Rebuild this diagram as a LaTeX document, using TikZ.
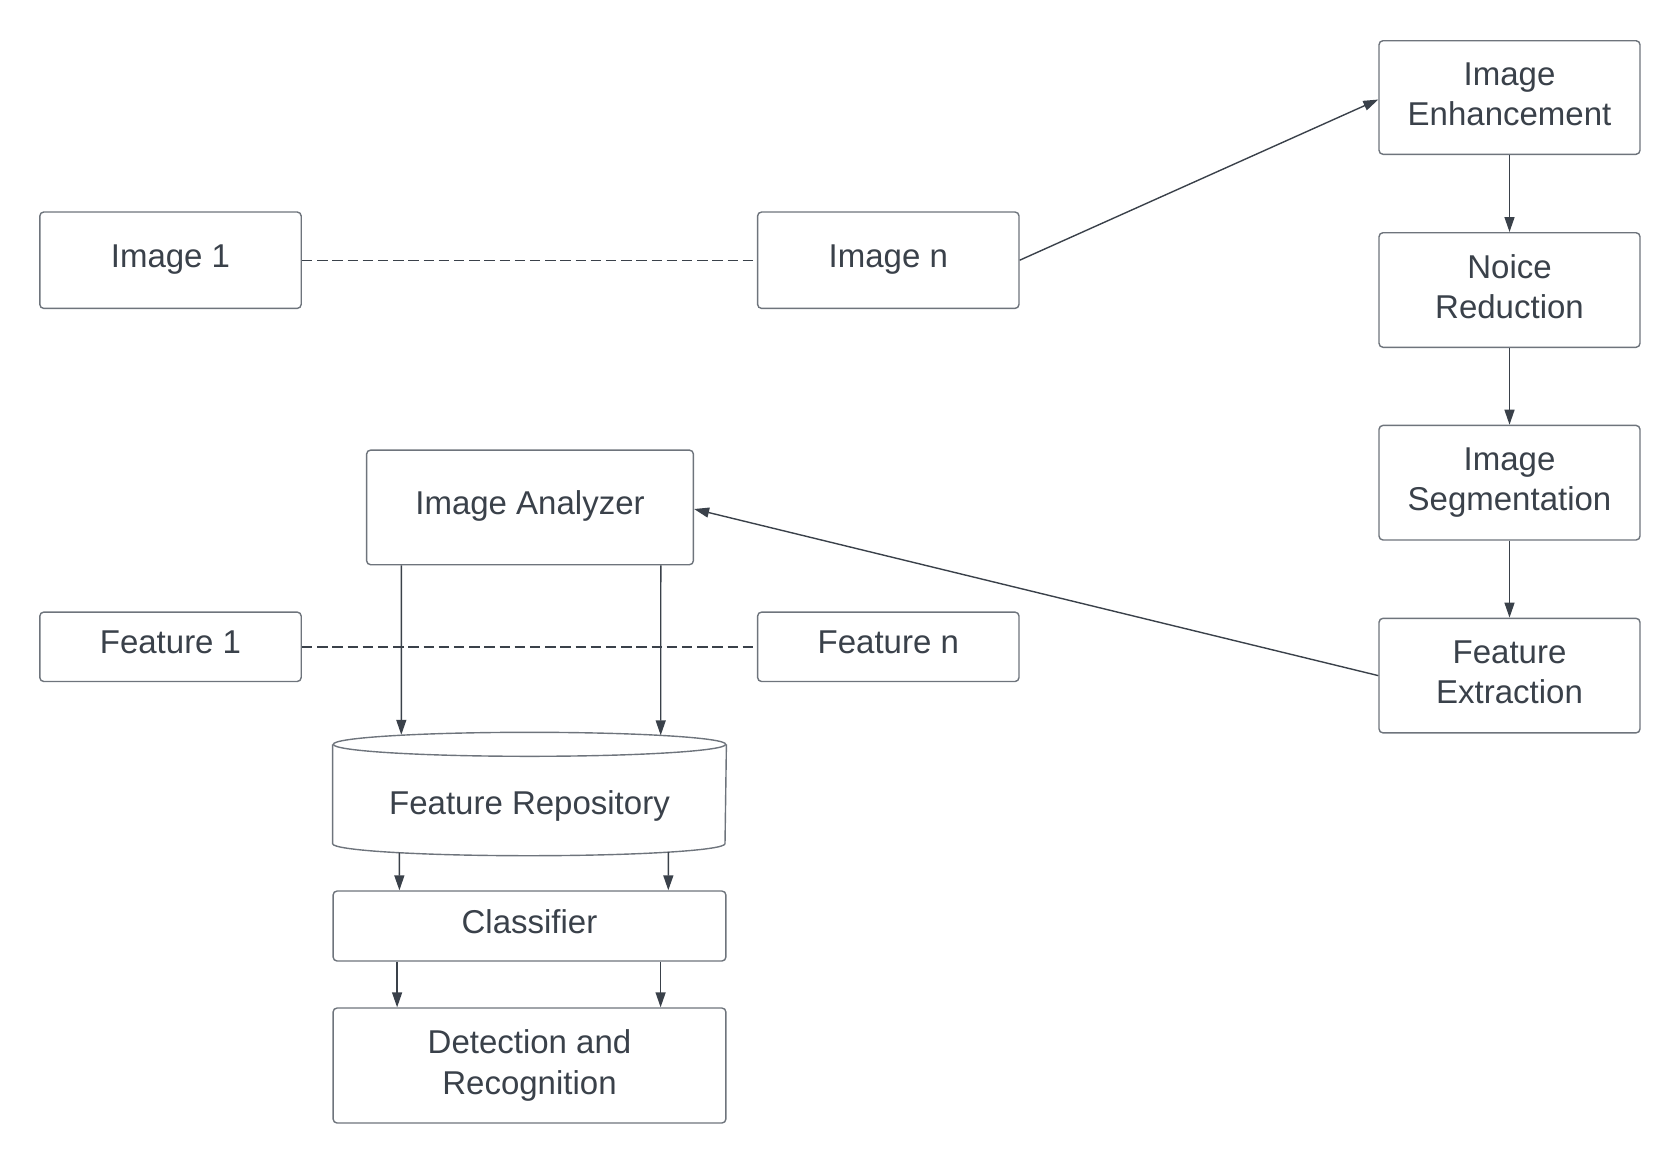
\documentclass[tikz,border=0pt]{standalone}
\usepackage{fontspec}
\setmainfont{Liberation Sans}
\usetikzlibrary{arrows.meta,calc}

\definecolor{inkgrey}{HTML}{3A414A}
\definecolor{edgegrey}{HTML}{6E747C}
\newcommand{\lastdepth}{\rule[-3.5pt]{0pt}{3.5pt}}

\tikzset{every picture/.style={line width=0.7pt}}
\tikzset{
  stagebox/.style={draw=edgegrey, rounded corners=2pt, fill=white, inner sep=0pt,
    text=inkgrey, align=center, font=\fontsize{16.5}{20.3}\selectfont},
  oneline/.style={stagebox, text height=10.5pt, text depth=3.5pt},
  flow/.style={draw=inkgrey, -{Triangle[length=7.5pt,width=5pt]}},
  link/.style={draw=inkgrey, dash pattern=on 5.2pt off 2.4pt}
}

\begin{document}
\begin{tikzpicture}[x=0.5pt,y=-0.5pt]
\useasboundingbox (0,0) rectangle (1680,1163);
\node [oneline, minimum width=130.7pt, minimum height=48.2pt] (img1) at (170.5,260.2) {Image 1};
\node [oneline, minimum width=130.7pt, minimum height=48.2pt] (imgn) at (888.3,260.2) {Image n};
\node [stagebox, minimum width=130.5pt, minimum height=56.8pt] (enh) at (1509.5,97.5) {Image\\Enhancement\lastdepth};
\node [stagebox, minimum width=130.5pt, minimum height=57.3pt] (noise) at (1509.5,290) {Noice\\Reduction\lastdepth};
\node [stagebox, minimum width=130.5pt, minimum height=57.3pt] (seg) at (1509.5,482.7) {Image\\Segmentation\lastdepth};
\node [stagebox, minimum width=130.5pt, minimum height=57.3pt] (ext) at (1509.5,675.6) {Feature\\Extraction\lastdepth};
\node [oneline, minimum width=163.4pt, minimum height=57.3pt] (ana) at (530,507.4) {Image Analyzer};
\node [oneline, minimum width=130.7pt, minimum height=34.7pt] (feat1) at (170.5,646.8) {Feature 1};
\node [oneline, minimum width=130.7pt, minimum height=34.7pt] (featn) at (888.3,646.8) {Feature n};
\node [stagebox, draw=none, fill=none, minimum width=196.2pt, minimum height=49pt] (repo) at (529.5,794) {\raisebox{-10pt}[0pt][0pt]{Feature Repository}};
\node [oneline, minimum width=196.4pt, minimum height=35pt] (cls) at (529.5,926) {Classifier};
\node [stagebox, minimum width=196.4pt, minimum height=57.5pt] (det) at (529.5,1065.5) {Detection and\\Recognition\lastdepth};

\draw [edgegrey] (repo.north west) -- (repo.south west)
  arc [start angle=180, end angle=360, x radius=98.1pt, y radius=6pt] -- (repo.north east);
\draw [edgegrey] (repo.north) ellipse [x radius=98.1pt, y radius=6pt];

\draw [link] (img1.east) -- (imgn.west);
\draw [link] (feat1.east) -- (featn.west);
\draw [flow] (imgn.east) -- ($(enh.west)+(0,2)$);
\draw [flow] (enh.south) -- (noise.north);
\draw [flow] (noise.south) -- (seg.north);
\draw [flow] (seg.south) -- (ext.north);
\draw [flow] (ext.west) -- ($(ana.east)+(0,1.6)$);
\draw [flow] ($(ana.south west)+(35.5,0)$) -- ($(repo.north west)+(68.7,-9.5)$);
\draw [flow] ($(ana.south east)+(-33.3,0)$) -- ($(repo.north east)+(-65.7,-9)$);
\draw [flow] ($(repo.south west)+(66.7,9)$) -- ($(cls.north west)+(67,0)$);
\draw [flow] ($(repo.south east)+(-58,8.5)$) -- ($(cls.north east)+(-58.3,0)$);
\draw [flow] ($(cls.south west)+(64.7,0)$) -- ($(det.north west)+(64.7,0)$);
\draw [flow] ($(cls.south east)+(-66,0)$) -- ($(det.north east)+(-66,0)$);
\end{tikzpicture}
\end{document}
